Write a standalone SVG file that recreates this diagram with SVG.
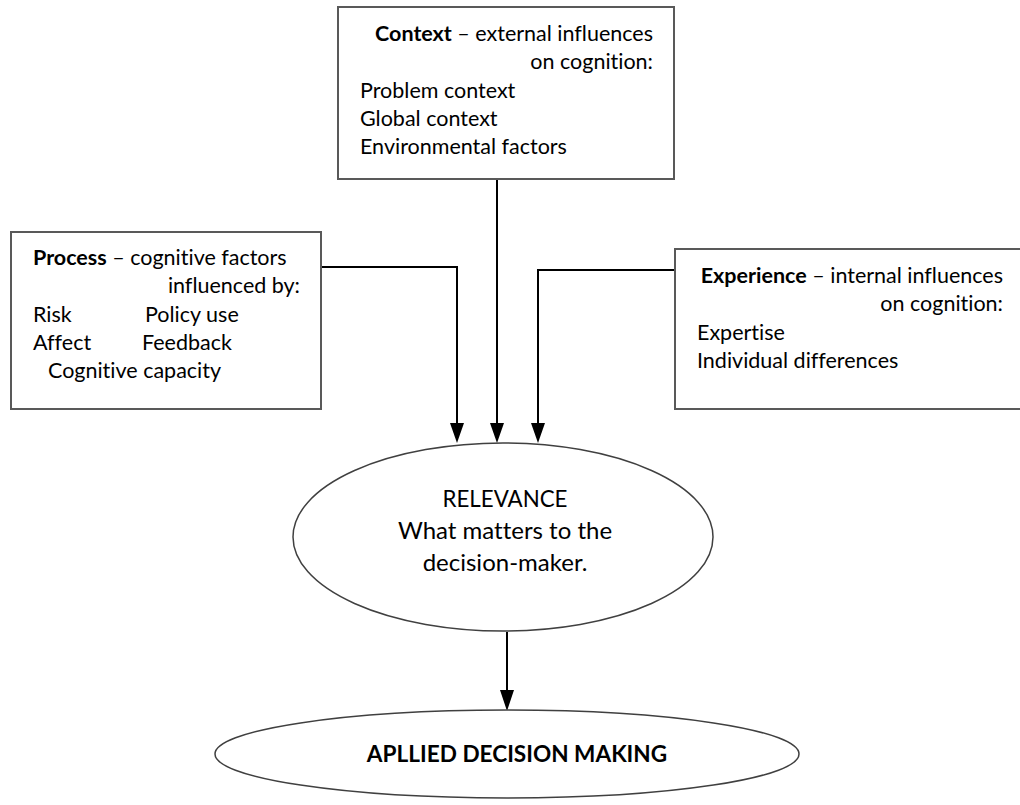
<svg xmlns="http://www.w3.org/2000/svg" width="1020" height="805" viewBox="0 0 1020 805">
<style>
.box{fill:#fff;stroke:#595959;stroke-width:2}
.ell{fill:#fff;stroke:#404040;stroke-width:1.5}
.t{font-family:Lato,"Open Sans",sans-serif;font-size:21.5px;fill:#000;font-variant-ligatures:none}
.b{font-weight:bold}
.r{text-anchor:end}
.m{text-anchor:middle}
.con{fill:none;stroke:#000;stroke-width:2}
.ah{fill:#000}
</style>
<rect width="1020" height="805" fill="#fff"/>
<g id="connectors">
<path class="con" d="M497,179 V423"/>
<path class="ah" d="M490,423 L504,423 L497,443 Z"/>
<path class="con" d="M321,267 H457 V423"/>
<path class="ah" d="M450,423 L464,423 L457,443 Z"/>
<path class="con" d="M675,270 H538 V423"/>
<path class="ah" d="M531,423 L545,423 L538,443 Z"/>
<path class="con" d="M507,632 V690"/>
<path class="ah" d="M500,690 L514,690 L507,711 Z"/>
</g>
<g id="context">
<rect class="box" x="338" y="7" width="336" height="172"/>
<text class="t r" x="653" y="41"><tspan class="b">Context</tspan> – external influences</text>
<text class="t r" x="653" y="69">on cognition:</text>
<text class="t" x="360" y="98">Problem context</text>
<text class="t" x="360" y="126">Global context</text>
<text class="t" x="360" y="154">Environmental factors</text>
</g>
<g id="process">
<rect class="box" x="11" y="232" width="310" height="177"/>
<text class="t" x="33" y="265"><tspan class="b">Process</tspan> – cognitive factors</text>
<text class="t r" x="300" y="293">influenced by:</text>
<text class="t" x="33" y="322">Risk</text>
<text class="t" x="145" y="322">Policy use</text>
<text class="t" x="33" y="350">Affect</text>
<text class="t" x="142" y="350">Feedback</text>
<text class="t" x="48" y="378">Cognitive capacity</text>
</g>
<g id="experience">
<rect class="box" x="675" y="249" width="350" height="160"/>
<text class="t r" x="1003" y="283"><tspan class="b">Experience</tspan> – internal influences</text>
<text class="t r" x="1003" y="311">on cognition:</text>
<text class="t" x="697" y="340">Expertise</text>
<text class="t" x="697" y="368">Individual differences</text>
</g>
<g id="relevance">
<ellipse class="ell" cx="503" cy="537" rx="210" ry="94"/>
<text class="t m" x="505" y="507" style="font-size:22.3px">RELEVANCE</text>
<text class="t m" x="505" y="539" style="font-size:24px">What matters to the</text>
<text class="t m" x="505" y="571" style="font-size:24px">decision-maker.</text>
</g>
<g id="applied">
<ellipse class="ell" cx="507" cy="754" rx="292" ry="44"/>
<text class="t m b" x="517" y="762" style="font-size:22.6px">APLLIED DECISION MAKING</text>
</g>
</svg>
